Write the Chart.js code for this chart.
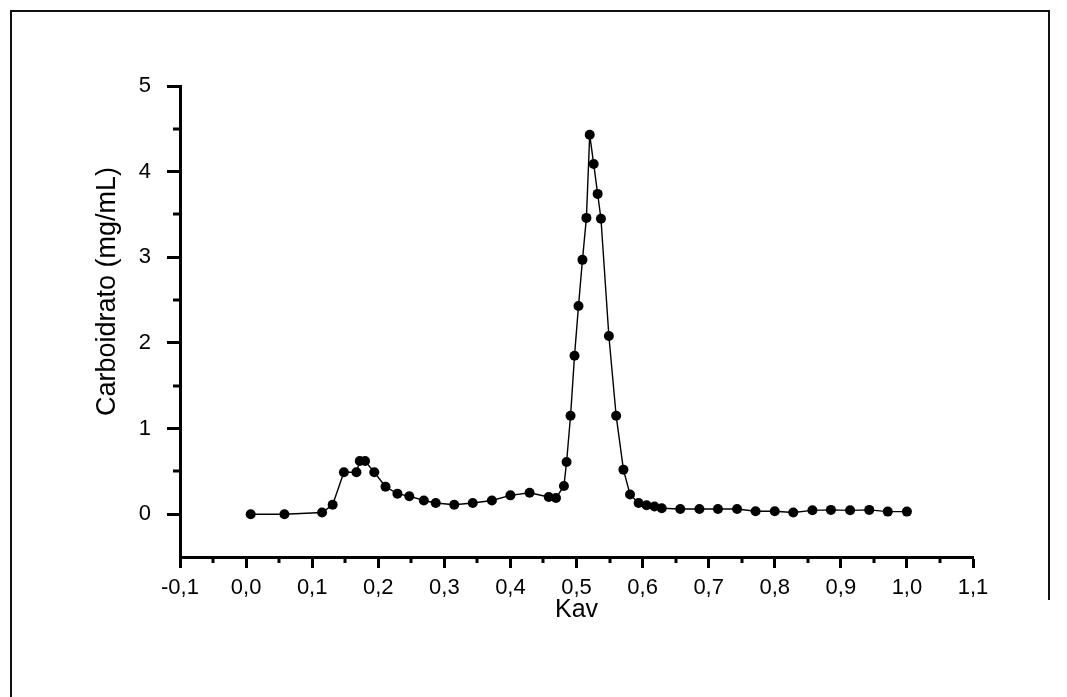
<!DOCTYPE html>
<html>
<head>
<meta charset="utf-8">
<script src="https://cdn.jsdelivr.net/npm/chart.js@4.4.0/dist/chart.umd.min.js"></script>
<style>
    body { margin: 0; background: #fff; }
    #wrap { width: 1067px; height: 697px; }
</style>
</head>
<body>
<div id="wrap"><canvas id="chart" width="1067" height="697"></canvas></div>
<script>
// Values
const kav = [0.007, 0.058, 0.115, 0.131, 0.148, 0.167, 0.172, 0.180, 0.194, 0.211,
    0.229, 0.247, 0.269, 0.287, 0.315, 0.343, 0.372, 0.400, 0.429, 0.458,
    0.469, 0.481, 0.485, 0.491, 0.497, 0.503, 0.509, 0.515, 0.520, 0.526,
    0.532, 0.537, 0.549, 0.560, 0.571, 0.581, 0.594, 0.606, 0.618, 0.629,
    0.657, 0.686, 0.714, 0.743, 0.771, 0.800, 0.828, 0.857, 0.885, 0.914,
    0.943, 0.971, 1.000];
const carboidrato = [0.00, 0.00, 0.02, 0.11, 0.49, 0.49, 0.62, 0.62, 0.49, 0.32,
    0.24, 0.21, 0.16, 0.13, 0.11, 0.13, 0.16, 0.22, 0.25, 0.20,
    0.19, 0.33, 0.61, 1.15, 1.85, 2.43, 2.97, 3.46, 4.43, 4.09,
    3.74, 3.45, 2.08, 1.15, 0.52, 0.23, 0.13, 0.105, 0.09, 0.07,
    0.06, 0.06, 0.06, 0.06, 0.035, 0.035, 0.02, 0.045, 0.05, 0.045,
    0.05, 0.03, 0.03];
const xTicks = [-0.1, 0.0, 0.1, 0.2, 0.3, 0.4, 0.5, 0.6, 0.7, 0.8, 0.9, 1.0, 1.1];
const yTicks = [0, 1, 2, 3, 4, 5];
const xTitle = 'Kav';
const yTitle = 'Carboidrato (mg/mL)';

const FONT = '"Liberation Sans", Arial, sans-serif';

// small ticks halfway between the labelled ones
const minorTicks = {
    id: 'minorTicks',
    afterDraw(chart) {
        const { ctx, chartArea, scales: { x, y } } = chart;
        ctx.save();
        ctx.strokeStyle = '#000';
        ctx.lineWidth = 3;
        ctx.beginPath();
        for (let i = 0; i < xTicks.length - 1; i++) {
            const px = Math.round(x.getPixelForValue((xTicks[i] + xTicks[i + 1]) / 2));
            ctx.moveTo(px, chartArea.bottom);
            ctx.lineTo(px, chartArea.bottom + 6);
        }
        for (let i = 0; i < yTicks.length - 1; i++) {
            const py = Math.round(y.getPixelForValue((yTicks[i] + yTicks[i + 1]) / 2));
            ctx.moveTo(chartArea.left, py);
            ctx.lineTo(chartArea.left - 7, py);
        }
        ctx.stroke();

        // y axis title, centred a little above the axis middle like the original
        const cy = y.getPixelForValue(2.6);
        ctx.translate(108, cy);
        ctx.rotate(-Math.PI / 2);
        ctx.fillStyle = '#000';
        ctx.font = '27px ' + FONT;
        ctx.textAlign = 'center';
        ctx.textBaseline = 'middle';
        ctx.fillText(yTitle, 0, 0);
        ctx.restore();
    }
};

// outer frame of the figure
const frame = {
    id: 'frame',
    beforeDraw(chart) {
        const ctx = chart.ctx;
        ctx.save();
        ctx.strokeStyle = '#111';
        ctx.lineWidth = 2;
        ctx.beginPath();
        ctx.moveTo(11, chart.height);
        ctx.lineTo(11, 11);
        ctx.lineTo(1049, 11);
        ctx.lineTo(1049, 600);
        ctx.stroke();
        ctx.restore();
    }
};

const fmtX = v => v.toFixed(1).replace('.', ',');

new Chart(document.getElementById('chart'), {
    type: 'scatter',
    data: {
        datasets: [{
            data: kav.map((k, i) => ({ x: k, y: carboidrato[i] })),
            showLine: true,
            borderColor: '#000',
            borderWidth: 1.4,
            backgroundColor: '#000',
            pointRadius: 5,
            pointBorderWidth: 0,
            pointHoverRadius: 5
        }]
    },
    options: {
        responsive: false,
        animation: false,
        layout: { padding: { left: 0, top: 86, right: 94, bottom: 0 } },
        plugins: {
            legend: { display: false },
            tooltip: { enabled: false }
        },
        scales: {
            x: {
                type: 'linear',
                min: -0.1,
                max: 1.1,
                afterBuildTicks: s => { s.ticks = xTicks.map(v => ({ value: v })); },
                afterFit: s => { s.height = 140; },
                ticks: {
                    callback: v => fmtX(v),
                    color: '#000',
                    font: { family: FONT, size: 22 },
                    padding: 7,
                    maxRotation: 0,
                    autoSkip: false
                },
                grid: { drawOnChartArea: false, tickLength: 11, tickWidth: 3, tickColor: '#000' },
                border: { width: 3, color: '#000' },
                title: {
                    display: true,
                    text: xTitle,
                    color: '#000',
                    font: { family: FONT, size: 25 },
                    padding: { top: 0, bottom: 72 }
                }
            },
            y: {
                min: -0.5,
                max: 5,
                afterBuildTicks: s => { s.ticks = yTicks.map(v => ({ value: v })); },
                afterFit: s => { s.width = 180; },
                ticks: {
                    callback: v => String(v),
                    color: '#000',
                    font: { family: FONT, size: 22 },
                    padding: 16
                },
                grid: { drawOnChartArea: false, tickLength: 13, tickWidth: 3, tickColor: '#000' },
                border: { width: 3, color: '#000' }
            }
        }
    },
    plugins: [frame, minorTicks]
});
</script>
</body>
</html>
